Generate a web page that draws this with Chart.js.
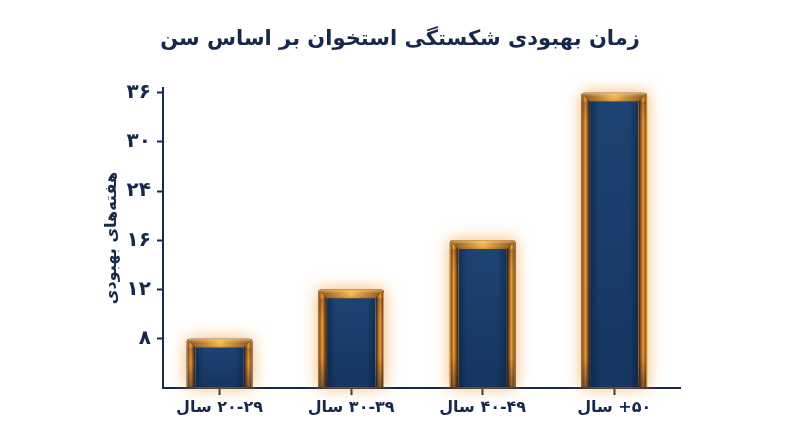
<!DOCTYPE html>
<html lang="fa">
<head>
<meta charset="utf-8">
<script src="https://cdn.jsdelivr.net/npm/chart.js@4.4.1/dist/chart.umd.min.js"></script>
<style>
    html, body { margin: 0; padding: 0; background: #ffffff; }
    #wrap { width: 800px; height: 447px; }
</style>
</head>
<body>
<div id="wrap"><canvas id="bone-chart" dir="rtl" width="800" height="447"></canvas></div>
<script>
// داده‌ها
const ageGroups = ['۲۰-۲۹ سال', '۳۰-۳۹ سال', '۴۰-۴۹ سال', '۵۰+ سال'];
const recoveryWeeks = [8, 12, 16, 36];
const weekTicks = [8, 12, 16, 24, 30, 36];
const weekTickLabels = ['۸', '۱۲', '۱۶', '۲۴', '۳۰', '۳۶'];

const NAVY = '#16294a';
const FONT = "'DejaVu Sans', 'Noto Sans', sans-serif";

// محور عمودی در تصویر اصلی فاصله‌ی مساوی بین برچسب‌ها دارد
function tickIndex(w) {
    return weekTicks.indexOf(w);
}

function roundTopRect(ctx, l, t, r, b, rad) {
    ctx.beginPath();
    ctx.moveTo(l, b);
    ctx.lineTo(l, t + rad);
    ctx.quadraticCurveTo(l, t, l + rad, t);
    ctx.lineTo(r - rad, t);
    ctx.quadraticCurveTo(r, t, r, t + rad);
    ctx.lineTo(r, b);
    ctx.closePath();
}

// ستون‌های قاب طلایی
const bevelBars = {
    id: 'bevelBars',
    afterDatasetsDraw(chart) {
        const ctx = chart.ctx;
        chart.getDatasetMeta(0).data.forEach(bar => {
            const p = bar.getProps(['x', 'y', 'base', 'width'], true);
            const l = p.x - p.width / 2, r = p.x + p.width / 2;
            const t = p.y, b = p.base - 1;
            const f = 9;
            const h = b - t;

            ctx.save();
            // هاله
            ctx.shadowColor = 'rgba(240, 150, 40, 0.7)';
            ctx.shadowBlur = 16;
            roundTopRect(ctx, l, t, r, b, 3);
            ctx.fillStyle = '#22283a';
            ctx.fill();
            ctx.restore();

            ctx.save();
            roundTopRect(ctx, l, t, r, b, 3);
            ctx.clip();

            // قاب چپ و راست
            [[l, l + f], [r, r - f]].forEach(([o, i]) => {
                const g = ctx.createLinearGradient(o, 0, i, 0);
                g.addColorStop(0, '#3a2c26');
                g.addColorStop(0.15, '#8a5624');
                g.addColorStop(0.45, '#ee9a30');
                g.addColorStop(0.75, '#7a4a20');
                g.addColorStop(0.9, '#2c2834');
                g.addColorStop(1, '#f2b452');
                ctx.fillStyle = g;
                ctx.beginPath();
                ctx.moveTo(o, t); ctx.lineTo(i, t + f); ctx.lineTo(i, b); ctx.lineTo(o, b);
                ctx.closePath(); ctx.fill();
            });

            // سایه‌ی عمودی روی قاب‌ها (بالا و پایین تیره‌تر)
            let g = ctx.createLinearGradient(0, t, 0, b);
            g.addColorStop(0, 'rgba(20, 24, 40, 0.3)');
            g.addColorStop(Math.min(0.5, 30 / h), 'rgba(20, 24, 40, 0)');
            g.addColorStop(Math.max(0.5, 1 - 30 / h), 'rgba(20, 24, 40, 0)');
            g.addColorStop(1, 'rgba(20, 24, 40, 0.45)');
            ctx.fillStyle = g;
            ctx.fillRect(l, t + f, f, h - f);
            ctx.fillRect(r - f, t + f, f, h - f);

            // لبه‌ی بالایی
            g = ctx.createLinearGradient(l, 0, r, 0);
            g.addColorStop(0, '#7a4c1e');
            g.addColorStop(0.5, '#f6b84c');
            g.addColorStop(1, '#7a4c1e');
            ctx.fillStyle = g;
            ctx.beginPath();
            ctx.moveTo(l, t); ctx.lineTo(r, t); ctx.lineTo(r - f, t + f); ctx.lineTo(l + f, t + f);
            ctx.closePath(); ctx.fill();
            g = ctx.createLinearGradient(0, t, 0, t + f);
            g.addColorStop(0, 'rgba(255, 225, 150, 0.6)');
            g.addColorStop(0.5, 'rgba(255, 200, 110, 0)');
            g.addColorStop(1, 'rgba(90, 50, 20, 0.3)');
            ctx.fillStyle = g;
            ctx.fill();

            // پنل داخلی
            g = ctx.createLinearGradient(0, t + f, 0, b);
            g.addColorStop(0, '#1d4373');
            g.addColorStop(1, '#163560');
            ctx.fillStyle = g;
            ctx.fillRect(l + f, t + f, r - l - 2 * f, b - t - f);
            g = ctx.createLinearGradient(l + f, 0, r - f, 0);
            g.addColorStop(0, 'rgba(8, 20, 40, 0.4)');
            g.addColorStop(0.18, 'rgba(8, 20, 40, 0)');
            g.addColorStop(0.82, 'rgba(8, 20, 40, 0)');
            g.addColorStop(1, 'rgba(8, 20, 40, 0.4)');
            ctx.fillStyle = g;
            ctx.fillRect(l + f, t + f, r - l - 2 * f, b - t - f);

            // خط نازک طلایی دور
            ctx.strokeStyle = 'rgba(235, 165, 70, 0.85)';
            ctx.lineWidth = 1;
            roundTopRect(ctx, l + 0.5, t + 0.5, r - 0.5, b + 2, 3);
            ctx.stroke();
            ctx.restore();
        });
    }
};

const ctx = document.getElementById('bone-chart').getContext('2d');
const boneChart = new Chart(ctx, {
    type: 'bar',
    data: {
        datasets: [{
            data: recoveryWeeks.map((w, i) => ({ x: i, y: tickIndex(w) + 1 })),
            backgroundColor: 'rgba(0,0,0,0)',
            borderWidth: 0,
            base: 0,
            barPercentage: 0.5,
            categoryPercentage: 1
        }]
    },
    options: {
        responsive: false,
        animation: false,
        layout: { padding: 0 },
        plugins: {
            legend: { display: false },
            tooltip: { enabled: false },
            title: {
                display: true,
                text: 'زمان بهبودی شکستگی استخوان بر اساس سن',
                color: NAVY,
                font: { family: FONT, size: 21, weight: 'bold', lineHeight: 1.2 },
                padding: { top: 27, bottom: 36 }
            }
        },
        scales: {
            x: {
                type: 'linear',
                offset: false,
                min: -0.43,
                max: 3.5,
                afterBuildTicks: scale => { scale.ticks = ageGroups.map((_, i) => ({ value: i })); },
                afterFit: scale => { scale.height = 59; },
                border: { display: true, color: NAVY, width: 2 },
                grid: { display: true, offset: false, drawOnChartArea: false, drawTicks: true, tickLength: 7, tickWidth: 2, tickColor: NAVY },
                ticks: {
                    autoSkip: false,
                    maxRotation: 0,
                    padding: 3,
                    color: NAVY,
                    font: { family: FONT, size: 16, weight: 'bold' },
                    callback: (v) => ageGroups[v]
                }
            },
            y: {
                min: 0,
                max: 6.09,
                afterBuildTicks: scale => { scale.ticks = weekTicks.map((_, i) => ({ value: i + 1 })); },
                afterFit: scale => { scale.width = 163; },
                border: { display: true, color: NAVY, width: 2 },
                grid: { display: true, drawOnChartArea: false, drawTicks: true, tickLength: 6, tickWidth: 2, tickColor: NAVY },
                ticks: {
                    padding: 6,
                    color: NAVY,
                    font: { family: FONT, size: 20, weight: 'bold' },
                    callback: (v) => weekTickLabels[v - 1]
                },
                title: {
                    display: true,
                    text: 'هفته‌های بهبودی',
                    color: NAVY,
                    font: { family: FONT, size: 16, weight: 'bold', lineHeight: 1.2 },
                    padding: { top: 102, bottom: 0 }
                }
            },
            // فضای خالی سمت راست نمودار
            spacer: {
                type: 'linear',
                position: 'right',
                display: true,
                afterFit: scale => { scale.width = 120; },
                border: { display: false },
                grid: { display: false, drawTicks: false },
                ticks: { display: false }
            }
        }
    },
    plugins: [bevelBars]
});
</script>
</body>
</html>
